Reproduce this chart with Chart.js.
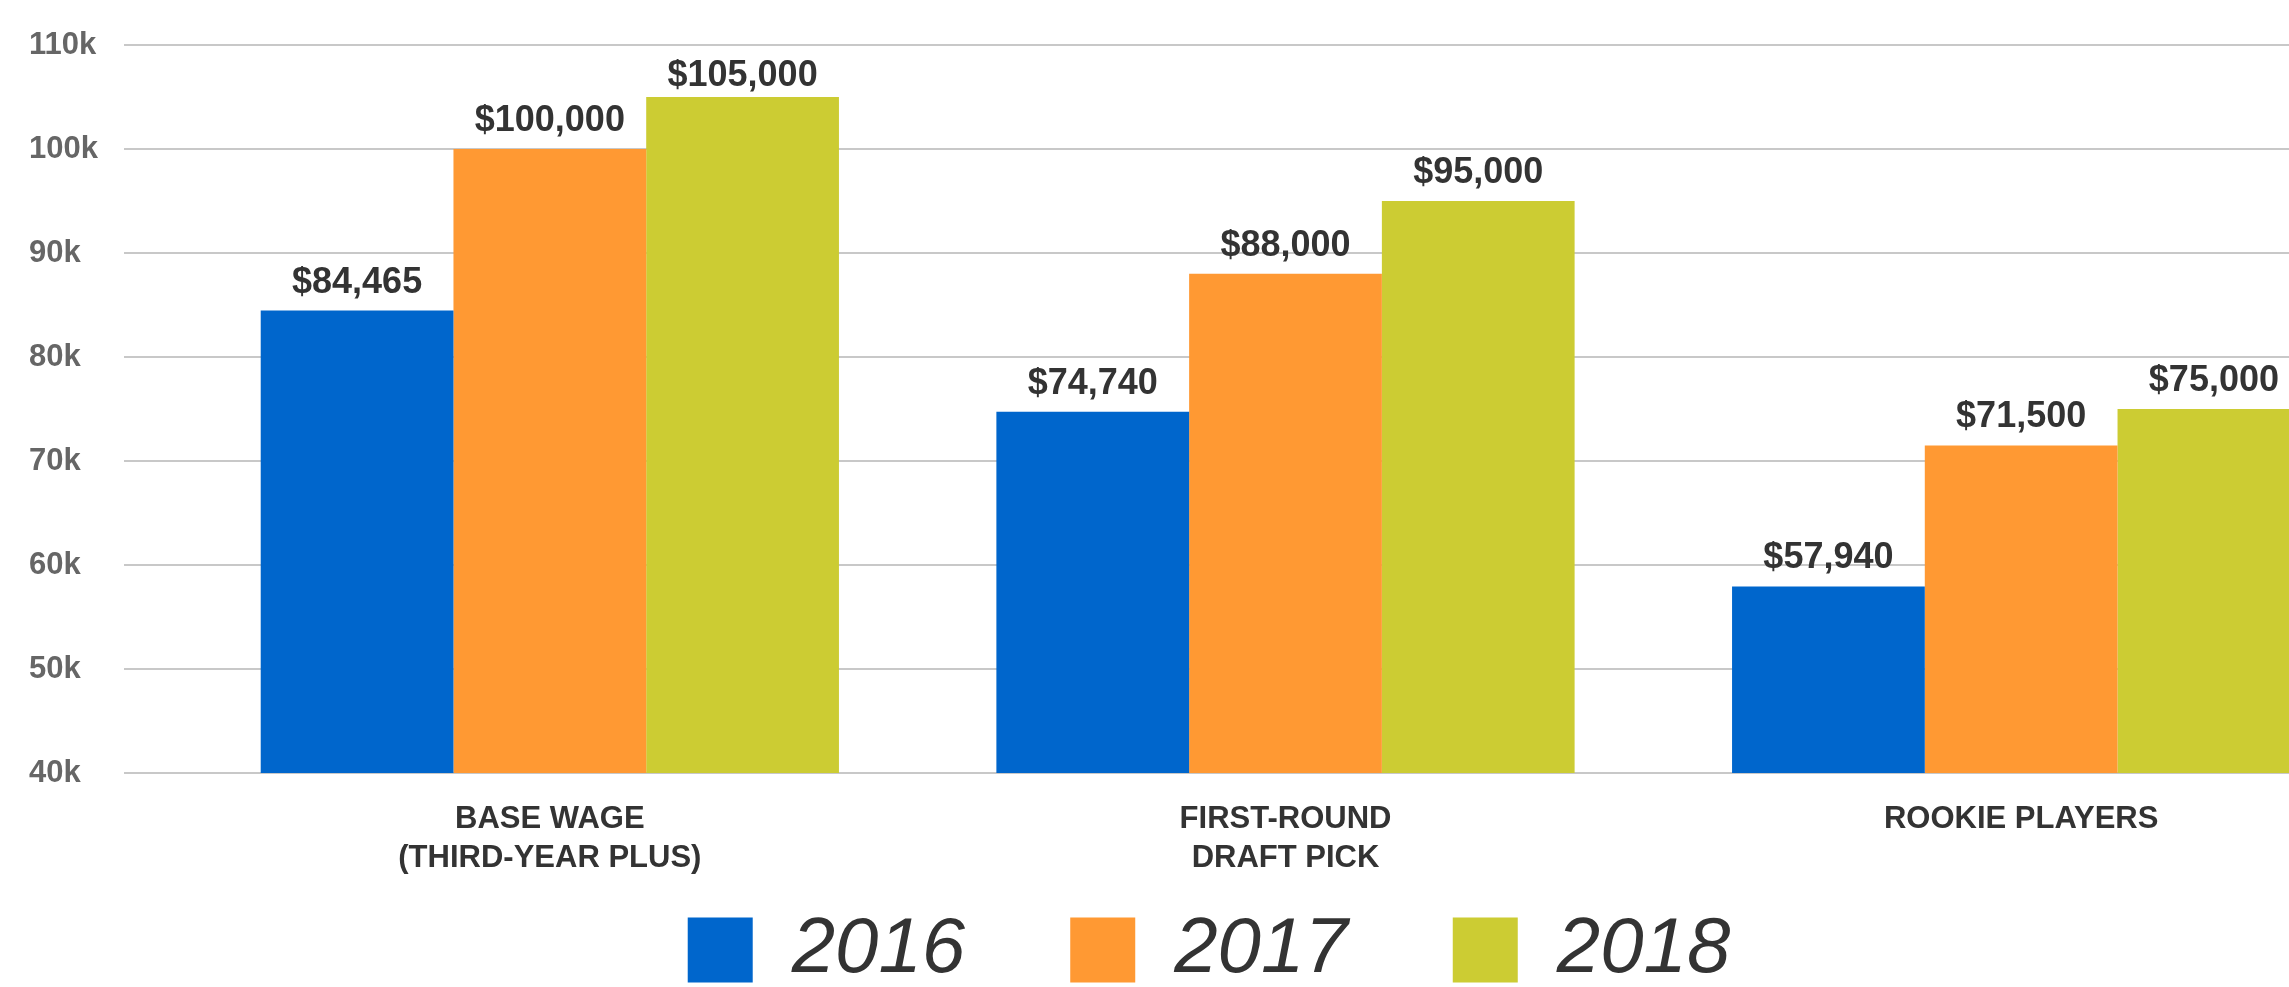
<!DOCTYPE html>
<html>
<head>
<meta charset="utf-8">
<script src="https://cdn.jsdelivr.net/npm/chart.js@4.4.1/dist/chart.umd.min.js"></script>
<style>
html, body { margin: 0; padding: 0; background: #fff; overflow: hidden; }
#wrap { width: 2289px; height: 987px; overflow: hidden; position: relative; background: #fff; }
canvas { display: block; }
</style>
</head>
<body>
<div id="wrap"><canvas id="c" width="2418" height="999"></canvas></div>
<script>
// ---- data ----
const categories = [['BASE WAGE', '(THIRD-YEAR PLUS)'], ['FIRST-ROUND', 'DRAFT PICK'], 'ROOKIE PLAYERS'];
const seriesNames = ['2016', '2017', '2018'];
const values2016 = [84465, 74740, 57940];
const values2017 = [100000, 88000, 71500];
const values2018 = [105000, 95000, 75000];
const seriesColors = ['#0066CC', '#FF9933', '#CCCC33'];
const yTickValues = [40000, 50000, 60000, 70000, 80000, 90000, 100000, 110000];
const yTickLabels = ['40k', '50k', '60k', '70k', '80k', '90k', '100k', '110k'];

const FONT = '"Liberation Sans", Arial, Helvetica, sans-serif';
Chart.defaults.font.family = FONT;

const valueLabels = {
  id: 'valueLabels',
  afterDatasetsDraw(chart) {
    const { ctx, chartArea } = chart;
    ctx.save();
    ctx.font = 'bold 36px ' + FONT;
    ctx.fillStyle = '#333333';
    ctx.textAlign = 'center';
    ctx.textBaseline = 'alphabetic';
    chart.data.datasets.forEach((ds, di) => {
      const meta = chart.getDatasetMeta(di);
      meta.data.forEach((bar, i) => {
        const v = ds.data[i];
        const txt = '$' + v.toLocaleString('en-US');
        const y = Math.max(bar.y - 18, chartArea.top + 41);
        ctx.fillText(txt, bar.x, y);
      });
    });
    ctx.restore();
  }
};

const seriesValues = [values2016, values2017, values2018];

new Chart(document.getElementById('c'), {
  type: 'bar',
  data: {
    labels: categories,
    datasets: seriesNames.map((name, i) => ({
      label: name,
      data: seriesValues[i],
      backgroundColor: seriesColors[i],
      borderWidth: 0,
      categoryPercentage: 0.786,
      barPercentage: 1.0
    }))
  },
  options: {
    responsive: false,
    animation: false,
    devicePixelRatio: 1,
    layout: { padding: { left: 29, right: 29, top: 45, bottom: 0 } },
    plugins: {
      tooltip: { enabled: false },
      legend: {
        position: 'bottom',
        labels: {
          boxWidth: 65,
          boxHeight: 65,
          padding: 105,
          color: '#333333',
          font: { size: 78, style: 'italic', weight: 'normal', family: FONT }
        }
      }
    },
    scales: {
      x: {
        type: 'category',
        offset: true,
        grid: { display: false, drawTicks: false },
        border: { display: false },
        ticks: {
          color: '#333333',
          font: { size: 31, weight: 'bold', family: FONT, lineHeight: 1.26 },
          padding: 27,
          maxRotation: 0,
          minRotation: 0,
          autoSkip: false
        },
        afterFit(scale) {
          scale.height = 33;
          scale._computeLabelArea = () => undefined;
        }
      },
      y: {
        min: 40000,
        max: 110000,
        afterBuildTicks(scale) { scale.ticks = yTickValues.map(v => ({ value: v })); },
        grid: {
          color: '#C8C8C8',
          lineWidth: 2,
          drawTicks: true,
          tickLength: 58,
          tickColor: '#C8C8C8',
          tickWidth: 2
        },
        border: { display: false },
        ticks: {
          color: '#666666',
          crossAlign: 'far',
          font: { size: 31, weight: 'bold', family: FONT },
          callback(value) {
            const idx = yTickValues.indexOf(value);
            return idx >= 0 ? yTickLabels[idx] : '';
          }
        },
        afterFit(scale) { scale.width = 153; }
      }
    }
  },
  plugins: [valueLabels]
});
</script>
</body>
</html>
